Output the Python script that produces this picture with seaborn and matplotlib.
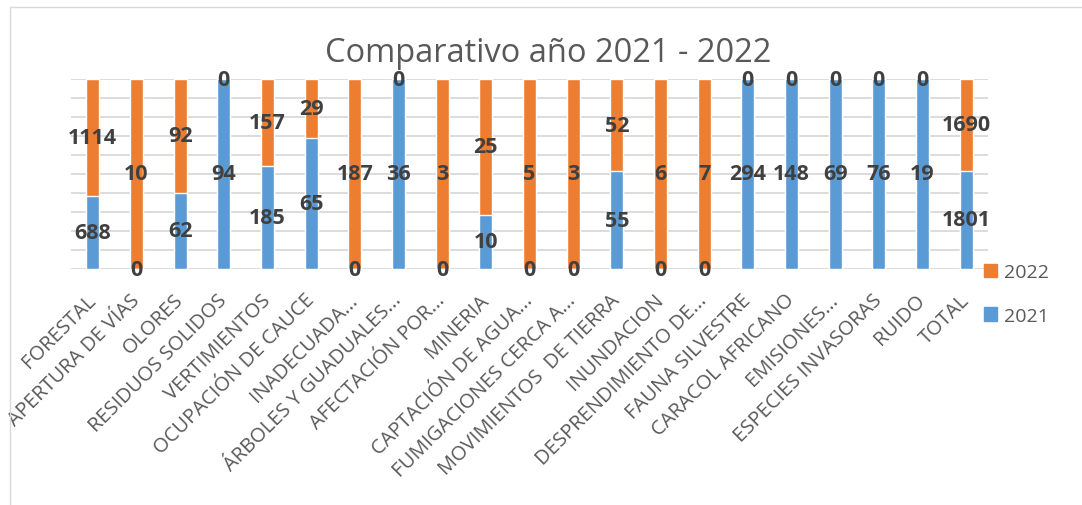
import numpy as np
import pandas as pd
import seaborn as sns
from matplotlib import pyplot as plt
from matplotlib.patches import Rectangle, Patch

# Data
categories = ["FORESTAL", "APERTURA DE VÍAS", "OLORES", "RESIDUOS SOLIDOS", "VERTIMIENTOS",
              "OCUPACIÓN DE CAUCE", "INADECUADA...", "ÁRBOLES Y GUADUALES...", "AFECTACIÓN POR...",
              "MINERIA", "CAPTACIÓN DE AGUA...", "FUMIGACIONES CERCA A...", "MOVIMIENTOS  DE TIERRA",
              "INUNDACION", "DESPRENDIMIENTO DE...", "FAUNA SILVESTRE", "CARACOL AFRICANO",
              "EMISIONES...", "ESPECIES INVASORAS", "RUIDO", "TOTAL"]
values_2021 = [688, 0, 62, 94, 185, 65, 0, 36, 0, 10, 0, 0, 55, 0, 0, 294, 148, 69, 76, 19, 1801]
values_2022 = [1114, 10, 92, 0, 157, 29, 187, 0, 3, 25, 5, 3, 52, 6, 7, 0, 0, 0, 0, 0, 1690]

BLUE = "#5B9BD5"
ORANGE = "#ED7D31"
LABEL_COLOR = "#404040"
TEXT_GREY = "#595959"

df = pd.DataFrame({"cat": categories, "y2021": values_2021, "y2022": values_2022})
df["total"] = df["y2021"] + df["y2022"]
df["p2021"] = df["y2021"] / df["total"] * 100
df["full"] = 100.0

sns.set_style("white")
plt.rcParams['font.family'] = ['Open Sans', 'DejaVu Sans']

fig = plt.figure(figsize=(10.82, 5.06), dpi=100)
ax = fig.add_axes([71 / 1082, 1 - 270 / 506, (988 - 71) / 1082, 190 / 506])

# stacked 100%: orange full bar, blue share drawn on top
sns.barplot(data=df, x="cat", y="full", color=ORANGE, width=0.3, saturation=1, ax=ax, zorder=2)
sns.barplot(data=df, x="cat", y="p2021", color=BLUE, width=0.3, saturation=1, ax=ax, zorder=3)

ax.set_ylim(0, 100)
ax.set_xlim(-0.5, len(categories) - 0.5)
for yv in np.arange(0, 101, 10):
    ax.axhline(yv, color="#D9D9D9", lw=1.3, zorder=1)
for s in ax.spines.values():
    s.set_visible(False)
ax.set_yticks([])
ax.set_xlabel("")
ax.set_ylabel("")
ax.tick_params(axis="x", length=0, pad=20)
ax.set_xticks(range(len(categories)))
ax.set_xticklabels(categories, rotation=45, ha="right", va="center", rotation_mode="anchor",
                   fontsize=14.5, color=TEXT_GREY)

# data labels
for i, row in df.iterrows():
    p = row["p2021"]
    ax.text(i, p / 2, f"{row['y2021']}", ha="center", va="center", fontsize=15.5,
            fontweight="bold", color=LABEL_COLOR, zorder=5)
    ax.text(i, p + (100 - p) / 2, f"{row['y2022']}", ha="center", va="center", fontsize=15.5,
            fontweight="bold", color=LABEL_COLOR, zorder=5)

fig.text(548 / 1082, 1 - 53 / 506, "Comparativo año 2021 - 2022", ha="center", va="center",
         fontsize=23.5, color=TEXT_GREY)

handles = [Patch(color=ORANGE, label="2022"), Patch(color=BLUE, label="2021")]
fig.legend(handles=handles, loc="center left", bbox_to_anchor=(966 / 1082, 1 - 295 / 506),
           frameon=False, fontsize=14, labelcolor=TEXT_GREY, handlelength=0.7,
           handleheight=0.7, labelspacing=1.3, handletextpad=0.35)

fig.patches.append(Rectangle((10 / 1082, -0.1), 1.2, 1 - 8 / 506 + 0.1, transform=fig.transFigure,
                             fill=False, edgecolor="#D9D9D9", lw=1))

fig.savefig("out.png", dpi=100)
